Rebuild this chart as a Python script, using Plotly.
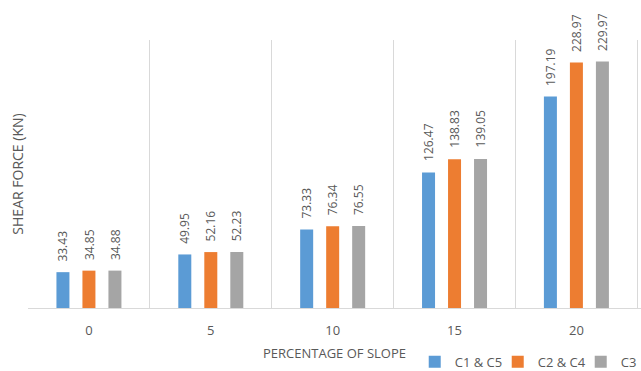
import plotly.graph_objects as go

# Percentage of slope categories and shear force per column group (kN)
slopes = ["0", "5", "10", "15", "20"]
series_names = ["C1 & C5", "C2 & C4", "C3"]
c1_c5 = [33.43, 49.95, 73.33, 126.47, 197.19]
c2_c4 = [34.85, 52.16, 76.34, 138.83, 228.97]
c3 = [34.88, 52.23, 76.55, 139.05, 229.97]
colors = ["#5B9BD5", "#ED7D31", "#A5A5A5"]

series_values = [c1_c5, c2_c4, c3]

W, H = 641, 371
M_L, M_R, M_T, M_B = 28, 0, 40, 63
BARGAP = 0.36
GROUPGAP = 0.5
FONT = "Open Sans"
GREY = "#595959"

fig = go.Figure()
for name, vals, col in zip(series_names, series_values, colors):
    fig.add_trace(go.Bar(
        x=slopes, y=vals, name=name,
        marker=dict(color=col, line=dict(width=0)),
    ))

# Value labels above each bar, rotated to read upward
slot = (1 - BARGAP) / len(series_values)
annotations = []
for k, vals in enumerate(series_values):
    off = (k - (len(series_values) - 1) / 2) * slot
    for i, v in enumerate(vals):
        annotations.append(dict(
            x=i + off, y=v, xref="x", yref="y",
            text=f"{v:.2f}", showarrow=False, textangle=-90,
            yanchor="bottom", xanchor="center", yshift=9,
            font=dict(family=FONT, size=12, color=GREY),
        ))

# Horizontal axis title, 45 px below the baseline
plot_h = H - M_T - M_B
annotations.append(dict(
    x=0.5, y=-45 / plot_h, xref="paper", yref="paper", yanchor="middle",
    text="PERCENTAGE OF SLOPE", showarrow=False,
    font=dict(family=FONT, size=13, color=GREY),
))

fig.update_layout(
    width=W, height=H,
    margin=dict(l=M_L, r=M_R, t=M_T, b=M_B),
    paper_bgcolor="white", plot_bgcolor="white",
    barmode="group", bargap=BARGAP, bargroupgap=GROUPGAP,
    font=dict(family=FONT, size=13, color=GREY),
    annotations=annotations,
    showlegend=True,
    legend=dict(
        orientation="h", xref="container", yref="container",
        x=0.647, xanchor="left", y=0.025, yanchor="middle",
        font=dict(family=FONT, size=13, color=GREY),
        itemwidth=30, entrywidth=38, entrywidthmode="pixels",
        tracegroupgap=0, bgcolor="rgba(0,0,0,0)",
    ),
    xaxis=dict(
        type="category", range=[-0.5, 4.53], automargin=False,
        tickson="boundaries", showgrid=True, gridcolor="#D9D9D9", gridwidth=1,
        showline=True, linecolor="#D9D9D9", linewidth=1,
        ticks="", ticklabelstandoff=10,
        tickfont=dict(family=FONT, size=13, color=GREY),
    ),
    yaxis=dict(
        range=[0, 250], showgrid=False, zeroline=False, showline=False,
        showticklabels=False, ticks="", automargin=False,
        title=dict(text="SHEAR FORCE (KN)", standoff=0,
                   font=dict(family=FONT, size=14, color=GREY)),
    ),
)

fig.write_html("out.html")
